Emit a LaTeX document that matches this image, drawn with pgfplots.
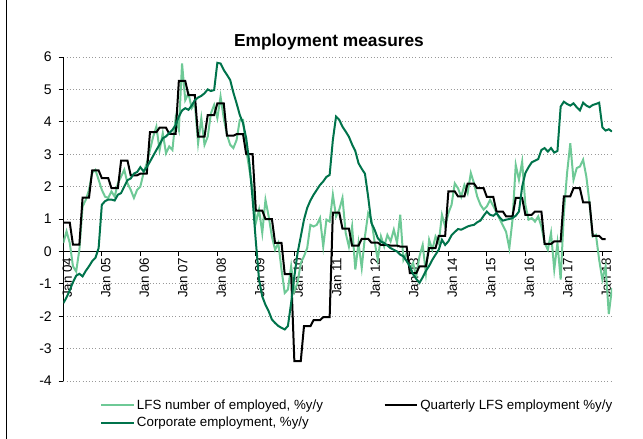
\documentclass[border=0pt]{standalone}
\usepackage{fontspec}
\setmainfont{Liberation Sans}
\usepackage{pgfplots}
\pgfplotsset{compat=1.18}
\definecolor{lfs}{RGB}{110,201,150}
\definecolor{corp}{RGB}{0,115,75}
\begin{document}
\begin{tikzpicture}
\path[use as bounding box] (0,0) rectangle (482.25pt,-329.25pt);
\draw[line width=0.8pt] (5pt,0) -- (5pt,-329.25pt);
\node[anchor=base,font=\bfseries\fontsize{13}{15}\selectfont] at (246.75pt,-35pt) {Employment measures};
\begin{axis}[
  at={(47.5pt,-285.75pt)}, anchor=south west,
  scale only axis, width=411.5pt, height=243pt,
  xmin=0, xmax=171, ymin=-4, ymax=6,
  axis x line=middle, axis y line=left,
  axis line style={-, line width=0.8pt, black},
  xtick={0,12,...,168},
  xticklabels={Jan 04,Jan 05,Jan 06,Jan 07,Jan 08,Jan 09,Jan 10,Jan 11,Jan 12,Jan 13,Jan 14,Jan 15,Jan 16,Jan 17,Jan 18},
  xticklabel style={rotate=90, anchor=east, font=\fontsize{10}{12}\selectfont, inner sep=1pt, yshift=-3pt},
  ytick={-4,-3,-2,-1,0,1,2,3,4,5,6},
  yticklabels={-4,-3,-2,-1,0,1,2,3,4,5,6},
  yticklabel style={font=\fontsize{10.5}{12}\selectfont, inner sep=1pt, xshift=-4pt},
  tick align=outside,
  major tick length=3.5pt,
  tick style={black, line width=0.7pt},
  hide obscured x ticks=false,
  ymajorgrids,
  grid style={dotted, gray!80, line width=0.6pt},
  legend columns=2,
  legend cell align=left,
  legend image code/.code={\draw[#1] (0pt,0pt) -- (24.5pt,0pt);},
  legend style={at={(0.0669,-0.05)}, anchor=north west, draw=none, fill=none,
    font=\fontsize{10}{12}\selectfont, inner sep=0pt, row sep=1.5pt,
    /tikz/column 2/.style={column sep=44pt},
    nodes={inner sep=1.5pt}},
]
\addplot[lfs, line width=1.5pt] coordinates {
(0,0.26)(1,0.62)(2,0.26)(3,-0.46)(4,-0.62)(5,0.05)(6,1.39)(7,1.59)(8,1.9)(9,2.42)
(10,2.52)(11,2.21)(12,1.9)(13,1.69)(14,1.65)(15,1.85)(16,1.69)(17,2.1)(18,2.31)(19,2.52)
(20,2.1)(21,1.9)(22,1.65)(23,1.9)(24,2.0)(25,2.42)(26,2.72)(27,3.13)(28,3.54)(29,3.85)
(30,3.13)(31,3.65)(32,3.03)(33,3.24)(34,3.13)(35,4.11)(36,3.75)(37,5.8)(38,4.67)(39,4.88)
(40,4.42)(41,4.57)(42,3.34)(43,4.11)(44,3.29)(45,3.54)(46,4.26)(47,4.52)(48,4.11)(49,4.78)
(50,4.11)(51,3.6)(52,3.29)(53,3.19)(54,3.44)(55,4.06)(56,4.06)(57,3.13)(58,2.52)(59,1.9)
(60,0.88)(61,1.29)(62,0.57)(63,1.59)(64,1.08)(65,0.46)(66,0.05)(67,0.26)(68,-0.56)(69,-1.28)
(70,-1.18)(71,-0.46)(72,-1.23)(73,-0.97)(74,-0.36)(75,-0.15)(76,0.1)(77,0.82)(78,0.77)(79,0.82)
(80,1.03)(81,0.15)(82,0.98)(83,0.92)(84,1.75)(85,1.08)(86,1.29)(87,1.65)(88,0.57)(89,0.15)
(90,0.77)(91,-0.56)(92,0.26)(93,-0.51)(94,0.46)(95,1.18)(96,0.98)(97,0.31)(98,-0.26)(99,0.46)
(100,0.15)(101,0.51)(102,0.31)(103,0.67)(104,0.26)(105,1.13)(106,-0.26)(107,-0.05)(108,-0.56)(109,-0.36)
(110,-0.77)(111,-0.15)(112,0.2)(113,-0.67)(114,0.36)(115,0.05)(116,0.46)(117,0.26)(118,1.13)(119,0.77)
(120,1.18)(121,1.44)(122,2.1)(123,1.95)(124,1.69)(125,2.05)(126,1.8)(127,2.42)(128,2.1)(129,1.69)
(130,1.44)(131,1.29)(132,1.39)(133,1.59)(134,1.4)(135,1.2)(136,1.0)(137,0.8)(138,0.6)(139,0.1)
(140,0.98)(141,2.67)(142,2.21)(143,2.77)(144,1.44)(145,0.98)(146,1.03)(147,0.92)(148,1.08)(149,0.77)
(150,0.26)(151,0.05)(152,0.57)(153,-0.56)(154,0.26)(155,-0.87)(156,1.18)(157,2.42)(158,3.34)(159,2.21)
(160,2.57)(161,2.62)(162,2.83)(163,2.31)(164,1.49)(165,0.46)(166,0.51)(167,-0.26)(168,-0.87)(169,-0.46)
(170,-1.93)(171,-1.13)
};
\addlegendentry{LFS number of employed, \%y/y}
\addplot[black, line width=1.5pt] coordinates {
(0,0.89)(1,0.89)(2,0.89)(3,0.21)(4,0.21)(5,0.21)(6,1.66)(7,1.66)(8,1.66)
(9,2.5)(10,2.5)(11,2.5)(12,2.26)(13,2.26)(14,2.26)(15,1.95)(16,1.95)(17,1.95)
(18,2.8)(19,2.8)(20,2.8)(21,2.35)(22,2.35)(23,2.35)(24,2.4)(25,2.4)(26,2.4)
(27,3.68)(28,3.68)(29,3.68)(30,3.82)(31,3.82)(32,3.82)(33,3.63)(34,3.63)(35,3.63)
(36,5.26)(37,5.26)(38,5.26)(39,4.82)(40,4.82)(41,4.82)(42,3.54)(43,3.54)(44,3.54)
(45,4.21)(46,4.21)(47,4.21)(48,4.57)(49,4.57)(50,4.57)(51,3.57)(52,3.57)(53,3.57)
(54,3.62)(55,3.62)(56,3.62)(57,3.0)(58,3.0)(59,3.0)(60,1.26)(61,1.26)(62,1.26)
(63,1.0)(64,1.0)(65,1.0)(66,0.26)(67,0.26)(68,0.26)(69,-0.7)(70,-0.7)(71,-0.7)
(72,-3.39)(73,-3.39)(74,-3.39)(75,-2.31)(76,-2.31)(77,-2.31)(78,-2.12)(79,-2.12)(80,-2.12)
(81,-2.03)(82,-2.03)(83,-2.03)(84,1.2)(85,1.2)(86,1.2)(87,0.7)(88,0.7)(89,0.7)
(90,0.18)(91,0.18)(92,0.18)(93,0.39)(94,0.39)(95,0.39)(96,0.27)(97,0.27)(98,0.27)
(99,0.2)(100,0.2)(101,0.2)(102,0.18)(103,0.18)(104,0.18)(105,0.15)(106,0.15)(107,0.15)
(108,-0.67)(109,-0.67)(110,-0.67)(111,-0.46)(112,-0.46)(113,-0.46)(114,0.1)(115,0.1)(116,0.1)
(117,0.48)(118,0.48)(119,0.48)(120,1.85)(121,1.85)(122,1.85)(123,1.7)(124,1.7)(125,1.7)
(126,2.09)(127,2.09)(128,2.09)(129,1.95)(130,1.95)(131,1.95)(132,1.68)(133,1.68)(134,1.68)
(135,1.23)(136,1.23)(137,1.23)(138,1.08)(139,1.08)(140,1.08)(141,1.65)(142,1.65)(143,1.65)
(144,1.13)(145,1.13)(146,1.13)(147,1.23)(148,1.23)(149,1.23)(150,0.23)(151,0.23)(152,0.23)
(153,0.31)(154,0.31)(155,0.31)(156,1.7)(157,1.7)(158,1.7)(159,1.95)(160,1.95)(161,1.95)
(162,1.51)(163,1.51)(164,1.51)(165,0.48)(166,0.48)(167,0.48)(168,0.38)(169,0.38)
};
\addlegendentry{Quarterly LFS employment \%y/y}
\addplot[corp, line width=1.5pt] coordinates {
(0,-1.6)(1,-1.42)(2,-1.2)(3,-0.95)(4,-0.75)(5,-0.69)(6,-0.77)(7,-0.6)(8,-0.46)(9,-0.3)
(10,-0.2)(11,0.1)(12,1.44)(13,1.55)(14,1.6)(15,1.6)(16,1.57)(17,1.75)(18,1.8)(19,2.0)
(20,2.2)(21,2.25)(22,2.4)(23,2.45)(24,2.6)(25,2.47)(26,2.6)(27,2.77)(28,2.95)(29,3.13)
(30,3.3)(31,3.49)(32,3.55)(33,3.65)(34,3.75)(35,3.9)(36,4.16)(37,4.35)(38,4.42)(39,4.37)
(40,4.5)(41,4.67)(42,4.75)(43,4.8)(44,4.88)(45,5.0)(46,4.95)(47,4.98)(48,5.82)(49,5.8)
(50,5.6)(51,5.45)(52,5.29)(53,4.9)(54,4.57)(55,4.21)(56,3.96)(57,3.49)(58,2.72)(59,1.6)
(60,0.3)(61,-0.87)(62,-1.39)(63,-1.65)(64,-1.85)(65,-2.1)(66,-2.21)(67,-2.3)(68,-2.36)(69,-2.41)
(70,-2.3)(71,-1.59)(72,-0.77)(73,-0.05)(74,0.46)(75,0.98)(76,1.34)(77,1.57)(78,1.75)(79,1.9)
(80,2.05)(81,2.16)(82,2.3)(83,2.36)(84,3.44)(85,4.16)(86,4.06)(87,3.85)(88,3.7)(89,3.54)
(90,3.3)(91,3.1)(92,2.72)(93,2.55)(94,2.4)(95,1.69)(96,0.88)(97,0.67)(98,0.41)(99,0.3)
(100,0.26)(101,0.18)(102,0.1)(103,0.05)(104,0.0)(105,-0.1)(106,-0.15)(107,-0.3)(108,-0.46)(109,-0.7)
(110,-0.85)(111,-0.97)(112,-0.8)(113,-0.6)(114,-0.45)(115,-0.26)(116,-0.1)(117,0.05)(118,0.36)(119,0.2)
(120,0.31)(121,0.5)(122,0.6)(123,0.69)(124,0.67)(125,0.72)(126,0.77)(127,0.8)(128,0.82)(129,0.9)
(130,0.95)(131,1.1)(132,1.23)(133,1.13)(134,1.1)(135,1.18)(136,1.05)(137,0.95)(138,0.98)(139,1.0)
(140,1.03)(141,1.1)(142,1.23)(143,2.0)(144,2.42)(145,2.6)(146,2.75)(147,2.8)(148,2.85)(149,3.13)
(150,3.19)(151,3.08)(152,3.19)(153,3.05)(154,3.1)(155,4.47)(156,4.62)(157,4.55)(158,4.5)(159,4.57)
(160,4.45)(161,4.35)(162,4.59)(163,4.5)(164,4.45)(165,4.52)(166,4.55)(167,4.59)(168,3.83)(169,3.73)
(170,3.77)(171,3.7)
};
\addlegendentry{Corporate employment, \%y/y}
\end{axis}
\end{tikzpicture}
\end{document}
